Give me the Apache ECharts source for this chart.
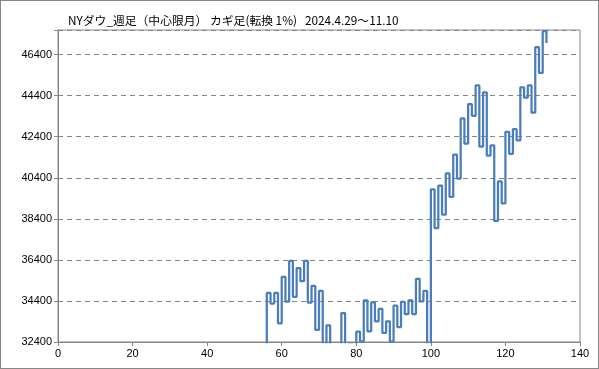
<!DOCTYPE html>
<html>
<head>
<meta charset="utf-8">
<script src="https://cdn.jsdelivr.net/npm/echarts@6/dist/echarts.min.js"></script>
<style>
html,body{margin:0;padding:0;background:#fff;}
#wrap{position:absolute;left:0;top:0;width:597px;height:367px;border:1px solid #868686;}
#c{width:597px;height:367px;}
</style>
</head>
<body>
<div id="wrap"><div id="c"></div></div>
<script>
// Kagi chart data: each vertical line is at x = startX + i and ends at levels[i]
const titleText = 'NYダウ_週足（中心限月） カギ足(転換 1%)   2024.4.29～11.10';
const startX = 56;
const startLevel = 32000;
const levels = [
  34790, 34270, 34790, 33310, 35570, 34370, 36350, 34600, 36000, 35360,
  36350, 34320, 35130, 32990, 34890, 32000, 33210, 31900, 32200, 31800,
  33810, 32000, 32300, 31900, 32900, 32430, 34430, 32920, 34330, 33410,
  34010, 32840, 33410, 32420, 34170, 33130, 34350, 33760, 34430, 33760,
  35470, 34380, 34890, 32000, 39830, 37950, 40020, 38600, 40610, 39470,
  41530, 40360, 43290, 42060, 43990, 43420, 44900, 41920, 44560, 41480,
  41980, 38300, 40220, 39150, 42640, 41570, 42770, 42220, 44810, 44300,
  44900, 43570, 46760, 45510, 47540, 46970
];
const xTicks = [0, 20, 40, 60, 80, 100, 120, 140];
const yTicks = [32400, 34400, 36400, 38400, 40400, 42400, 44400, 46400];

const pts = [[startX, startLevel]];
levels.forEach((v, i) => {
  const x = startX + i;
  pts.push([x, v]);
  if (i < levels.length - 1) pts.push([x + 1, v]);
});

const chart = echarts.init(document.getElementById('c'));
chart.setOption({
  animation: false,
  title: {
    text: titleText, left: 62, top: 9,
    textStyle: {fontSize: 11.8, fontWeight: 'normal', color: '#000', fontFamily: 'Noto Sans CJK JP'}
  },
  grid: {left: 57, right: 18, top: 29, bottom: 26, show: true, borderColor: '#868686', borderWidth: 1},
  xAxis: {
    type: 'value', min: xTicks[0], max: xTicks[xTicks.length - 1], interval: 20,
    axisLine: {lineStyle: {color: '#868686'}},
    axisTick: {show: true, length: 4, lineStyle: {color: '#868686'}},
    axisLabel: {color: '#000', fontSize: 11, fontFamily: 'Liberation Sans', margin: 6},
    splitLine: {show: false}
  },
  yAxis: {
    type: 'value', min: yTicks[0], max: 47600, interval: 2000,
    axisLine: {show: true, lineStyle: {color: '#868686'}},
    axisTick: {show: true, length: 4, lineStyle: {color: '#868686'}},
    axisLabel: {color: '#000', fontSize: 11, fontFamily: 'Liberation Sans', margin: 6,
      formatter: v => (v === 47600 ? '' : String(v))},
    splitLine: {show: true, lineStyle: {color: '#868686', type: [5, 4], width: 1}}
  },
  series: [{
    type: 'line', data: pts, symbol: 'none', clip: true,
    lineStyle: {color: '#4A7EBB', width: 2.25}
  }]
});
</script>
</body>
</html>
